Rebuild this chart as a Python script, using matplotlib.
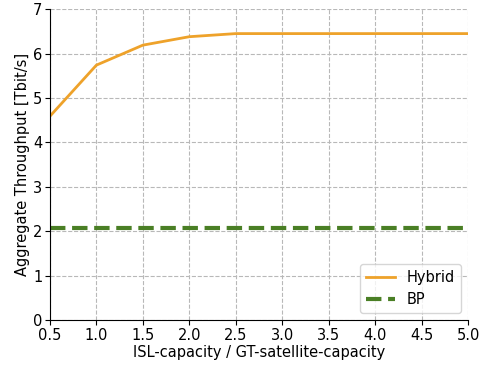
import matplotlib
matplotlib.use("Agg")
import matplotlib.pyplot as plt

ratio = [0.5, 1.0, 1.5, 2.0, 2.5, 3.0, 3.5, 4.0, 4.5, 5.0]
hybrid = [4.59, 5.74, 6.19, 6.38, 6.45, 6.45, 6.45, 6.45, 6.45, 6.45]
bp = [2.07, 2.07, 2.07, 2.07, 2.07, 2.07, 2.07, 2.07, 2.07, 2.07]

fig = plt.figure(figsize=(4.85, 3.67), dpi=100)
ax = fig.add_axes([0.103, 0.128, 0.862, 0.847])

ax.plot(ratio, hybrid, color="#eea22a", lw=2, label="Hybrid")
ax.plot(ratio, bp, color="#4a7f25", lw=3, ls="--", label="BP")

ax.set_xlim(0.5, 5.0)
ax.set_ylim(0, 7)
ax.set_xticks(ratio)
ax.set_yticks(range(8))
ax.grid(True, ls="--", color="#b8b8b8", lw=0.8)
ax.spines["top"].set_visible(False)
ax.spines["right"].set_visible(False)
ax.tick_params(labelsize=10.5, pad=2)
ax.set_xlabel("ISL-capacity / GT-satellite-capacity", fontsize=10.5, labelpad=2)
ax.set_ylabel("Aggregate Throughput [Tbit/s]", fontsize=10.5, labelpad=2)
ax.legend(loc="lower right", fontsize=10.5)

fig.savefig("out.png", dpi=100)
